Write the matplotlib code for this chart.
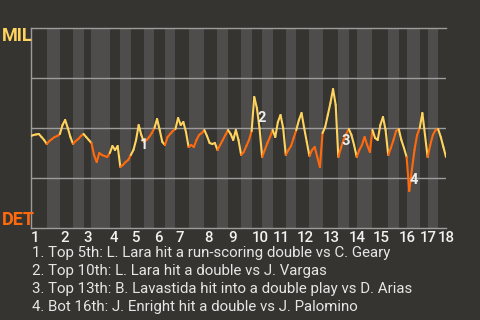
import numpy as np
import matplotlib.pyplot as plt
from matplotlib.collections import LineCollection

plt.rcParams['font.family'] = ['Roboto', 'DejaVu Sans']

# MIL win probability before the first pitch
start_wp = 0.46

# MIL win probability after each plate appearance, one list per half inning
# (top 1st, bottom 1st, top 2nd, ... top 18th)
wp_by_half = [
    [.465, .468, .47, .455, .44, .42],
    [.435, .445, .455, .46, .47],
    [.515, .54, .50, .455, .42],
    [.435, .445, .46, .47],
    [.455, .44, .425],
    [.365, .33, .375, .365, .36, .355, .375],
    [.41, .39, .41, .305],
    [.315, .33, .34, .365],
    [.39, .44, .515, .465, .43],
    [.44, .455, .475, .50],
    [.545, .49, .43, .415],
    [.455, .47, .485, .495],
    [.55, .515, .53, .48, .405],
    [.415, .405, .44, .465, .475, .49],
    [.46, .425, .42, .425, .39],
    [.415, .44, .465, .49],
    [.47, .44, .49, .44, .365],
    [.38, .41, .44, .485],
    [.655, .60, .50, .355],
    [.39, .425, .455, .49],
    [.455, .53, .565, .50, .365],
    [.39, .41, .45, .49],
    [.54, .575, .50, .43, .36],
    [.39, .405, .355, .305, .475],
    [.505, .565, .625, .695, .615, .355],
    [.40, .44, .47, .495],
    [.465, .415, .355],
    [.39, .415, .455, .415, .38, .49],
    [.45, .44, .515, .555, .49, .365],
    [.40, .44, .485, .495],
    [.44, .40, .355],
    [.185, .29, .39, .465, .50],
    [.575, .465, .355],
    [.415, .465, .49, .495],
    [.455, .405, .355],
]

innings = list(range(1, 19))

# key plays: (half inning index, plate appearance within it)
play_at = [(8, 2), (18, 0), (24, 5), (31, 0)]
play_text = [
    "1. Top 5th: L. Lara hit a run-scoring double vs C. Geary",
    "2. Top 10th: L. Lara hit a double vs J. Vargas",
    "3. Top 13th: B. Lavastida hit into a double play vs D. Arias",
    "4. Bot 16th: J. Enright hit a double vs J. Palomino",
]
label_offsets = [(5, -20), (7, -21), (7, 16), (5, 11)]

bg = '#363430'
stripe = '#4e4d4b'
yellow = '#FFD45E'
orange = '#FF6A0D'
grid_c = '#9c9c9c'

# build the series
wp = [start_wp]
half_of_event = []
half_start = []
for h, vals in enumerate(wp_by_half):
    half_start.append(len(wp) - 1)
    wp.extend(vals)
    half_of_event.extend([h] * len(vals))
wp = np.array(wp)
x = np.arange(len(wp))
n = len(wp) - 1

fig = plt.figure(figsize=(4.8, 3.2), dpi=100)
fig.patch.set_facecolor(bg)
ax = fig.add_axes([31 / 480, 1 - 228 / 320, 415 / 480, 200 / 320])
ax.set_facecolor(bg)

# shade the bottom halves
for h in range(1, len(wp_by_half), 2):
    ax.axvspan(half_start[h], half_start[h] + len(wp_by_half[h]),
               color=stripe, lw=0, zorder=0)

for yv in [0.25, 0.5, 0.75]:
    ax.axhline(yv, color=grid_c, lw=1, zorder=1)

segs = np.stack([np.column_stack([x[:-1], wp[:-1]]),
                 np.column_stack([x[1:], wp[1:]])], axis=1)
cols = [yellow if h % 2 == 0 else orange for h in half_of_event]
lc = LineCollection(segs, colors=cols, linewidths=1.5, zorder=3,
                    capstyle='round', joinstyle='round')
ax.add_collection(lc)

ax.set_xlim(0, n)
ax.set_ylim(0, 1)
ax.set_xticks([])
ax.set_yticks([])
for s in ['left', 'top', 'bottom']:
    ax.spines[s].set_color(grid_c)
    ax.spines[s].set_linewidth(1)
ax.spines['right'].set_visible(False)

# inning numbers under the axis
for k, inn in enumerate(innings):
    ax.annotate(str(inn), (half_start[2 * k], 0), xycoords='data',
                xytext=(0, -10), textcoords='offset pixels',
                ha='left', va='center', color='#f2f2f2', fontsize=10.8,
                fontweight='medium', annotation_clip=False)

# numbered markers on the line
for k, (h, j) in enumerate(play_at):
    ev = half_start[h] + j + 1
    ax.annotate(str(k + 1), (ev, wp[ev]), xytext=label_offsets[k],
                textcoords='offset pixels', ha='center', va='center',
                color='#eeeeee', fontsize=10.5, fontweight='bold', zorder=5)

fig.text(2 / 480, 1 - 27 / 320, 'MIL', color=yellow, fontsize=13,
         fontweight='bold', ha='left', va='top')
fig.text(2 / 480, 1 - 225 / 320, 'DET', color=orange, fontsize=13,
         fontweight='bold', ha='left', va='baseline')

for k, t in enumerate(play_text):
    fig.text(32 / 480, 1 - (253 + 18 * k) / 320, t, color='#e6e6e6',
             fontsize=10.8, ha='left', va='center')

fig.savefig('out.png', dpi=100, facecolor=bg)
